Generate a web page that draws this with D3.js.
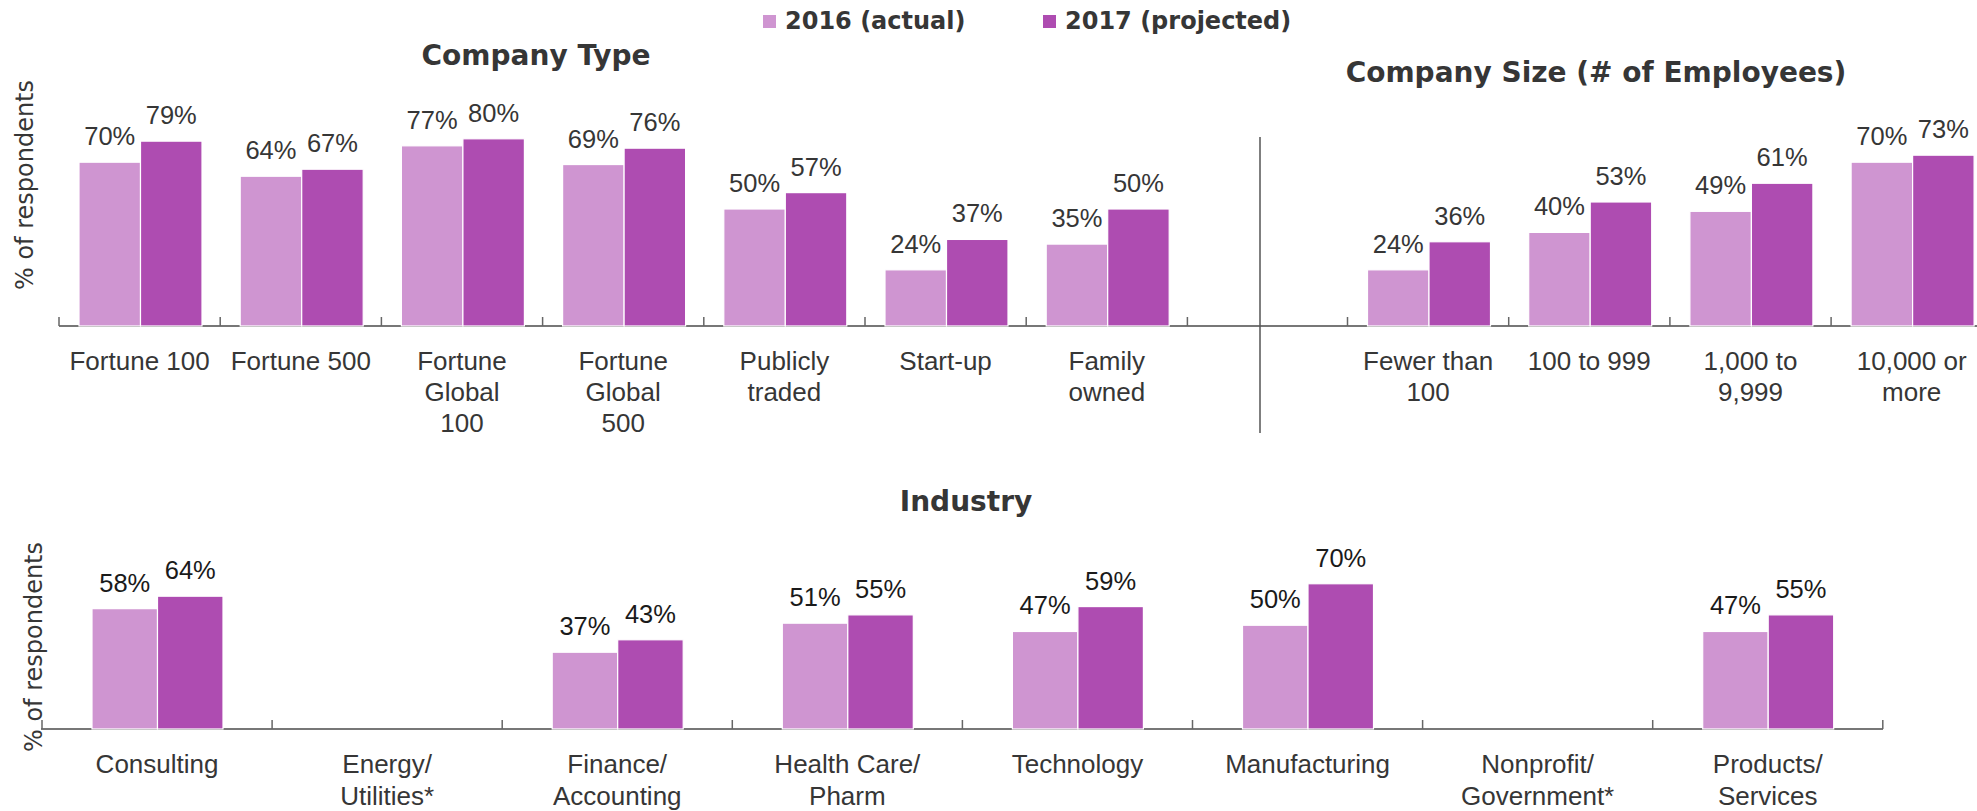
<!DOCTYPE html>
<html>
<head>
<meta charset="utf-8">
<script src="https://cdn.jsdelivr.net/npm/d3@7"></script>
<style>
  body { margin: 0; background: #fff; }
  svg { display: block; }
</style>
</head>
<body>
<div id="chart"></div>
<script>
// series
const seriesKeys = ["2016 (actual)", "2017 (projected)"];
const seriesColors = ["#cf95d1", "#ae4cb1"];

// company type
const typeCategories = ["Fortune 100", "Fortune 500", "Fortune\nGlobal\n100", "Fortune\nGlobal\n500", "Publicly\ntraded", "Start-up", "Family\nowned"];
const typeActual = [70, 64, 77, 69, 50, 24, 35];
const typeProjected = [79, 67, 80, 76, 57, 37, 50];

// company size
const sizeCategories = ["Fewer than\n100", "100 to 999", "1,000 to\n9,999", "10,000 or\nmore"];
const sizeActual = [24, 40, 49, 70];
const sizeProjected = [36, 53, 61, 73];

// industry (null = not shown)
const industryCategories = ["Consulting", "Energy/\nUtilities*", "Finance/\nAccounting", "Health Care/\nPharm", "Technology", "Manufacturing", "Nonprofit/\nGovernment*", "Products/\nServices"];
const industryActual = [58, null, 37, 51, 47, 50, null, 47];
const industryProjected = [64, null, 43, 55, 59, 70, null, 55];

const W = 1977, H = 811;
const labelFont = "'Liberation Sans', Arial, sans-serif";
const boldFont = "'DejaVu Sans', Verdana, sans-serif";
const textColor = "#363636";

const svg = d3.select("#chart").append("svg")
  .attr("width", W)
  .attr("height", H);

// legend
const legend = svg.append("g");
const legendX = [763, 1043];
seriesKeys.forEach(function (k, i) {
  legend.append("rect")
    .attr("x", legendX[i]).attr("y", 15)
    .attr("width", 13).attr("height", 13)
    .attr("fill", seriesColors[i]);
  legend.append("text")
    .attr("x", legendX[i] + 22).attr("y", 29)
    .attr("font-family", boldFont).attr("font-weight", "bold")
    .attr("font-size", 24).attr("fill", textColor)
    .text(k);
});

function drawGroup(cfg) {
  const g = svg.append("g");
  const data = cfg.categories.map((c, i) => ({
    key: c,
    values: [cfg.actual[i], cfg.projected[i]]
  }));

  const x0 = d3.scaleBand()
    .domain(cfg.categories)
    .range([cfg.x0, cfg.x0 + cfg.band * cfg.categories.length]);
  const x1 = d3.scaleBand()
    .domain([0, 1])
    .range(cfg.inner);

  // ticks at band boundaries
  const bounds = cfg.categories.map((c) => x0(c));
  if (cfg.endTick) bounds.push(x0.range()[1]);
  g.selectAll(".tick")
    .data(bounds)
    .enter()
    .append("line")
    .attr("x1", (d) => d).attr("x2", (d) => d)
    .attr("y1", cfg.y.range()[0] - 9).attr("y2", cfg.y.range()[0])
    .attr("stroke", "#666").attr("stroke-width", 1.5);

  const grp = g.selectAll(".grp")
    .data(data)
    .enter()
    .append("g")
    .attr("transform", (d) => "translate(" + x0(d.key) + ",0)");

  grp.selectAll("rect")
    .data((d) => d.values.map((v, i) => ({ v: v, i: i })).filter((e) => e.v != null))
    .enter()
    .append("rect")
    .attr("x", (d) => x1(d.i))
    .attr("width", x1.bandwidth())
    .attr("y", (d) => cfg.y(d.v))
    .attr("height", (d) => cfg.y(0) - cfg.y(d.v))
    .attr("fill", (d) => seriesColors[d.i])
    .attr("stroke", "#fff")
    .attr("stroke-width", 1.2);

  grp.selectAll(".val")
    .data((d) => d.values.map((v, i) => ({ v: v, i: i })).filter((e) => e.v != null))
    .enter()
    .append("text")
    .attr("x", (d) => x1(d.i) + x1.bandwidth() / 2)
    .attr("y", (d) => cfg.y(d.v) - 17)
    .attr("text-anchor", "middle")
    .attr("font-family", labelFont)
    .attr("font-size", 25.5)
    .attr("fill", cfg.valueColor)
    .text((d) => d.v + "%");

  // category labels
  grp.append("text")
    .attr("text-anchor", "middle")
    .attr("font-family", labelFont)
    .attr("font-size", 26)
    .attr("fill", textColor)
    .selectAll("tspan")
    .data((d) => d.key.split("\n"))
    .enter()
    .append("tspan")
    .attr("x", x0.bandwidth() / 2)
    .attr("y", (d, i) => cfg.labelY + i * cfg.lineH)
    .text((d) => d);

  return x0;
}

// top panels
const yTop = d3.scaleLinear().domain([0, 100]).range([326, 92]);

svg.append("line")
  .attr("x1", 59).attr("x2", W)
  .attr("y1", yTop(0)).attr("y2", yTop(0))
  .attr("stroke", "#777").attr("stroke-width", 2);

drawGroup({
  categories: typeCategories, actual: typeActual, projected: typeProjected,
  x0: 59, band: 161.2, inner: [20, 143], y: yTop, endTick: true,
  labelY: 370, lineH: 31, valueColor: textColor
});

drawGroup({
  categories: sizeCategories, actual: sizeActual, projected: sizeProjected,
  x0: 1347.5, band: 161.2, inner: [20, 143], y: yTop, endTick: false,
  labelY: 370, lineH: 31, valueColor: textColor
});

// divider
svg.append("line")
  .attr("x1", 1260).attr("x2", 1260)
  .attr("y1", 137).attr("y2", 433)
  .attr("stroke", "#555").attr("stroke-width", 1.5);

// industry panel
const yBot = d3.scaleLinear().domain([0, 100]).range([729, 521.5]);

svg.append("line")
  .attr("x1", 41).attr("x2", 1883)
  .attr("y1", yBot(0)).attr("y2", yBot(0))
  .attr("stroke", "#777").attr("stroke-width", 2);

drawGroup({
  categories: industryCategories, actual: industryActual, projected: industryProjected,
  x0: 42, band: 230.1, inner: [50, 181], y: yBot, endTick: true,
  labelY: 773, lineH: 32, valueColor: "#1a1a1a"
});

// titles
const titles = [
  { t: "Company Type", x: 536, y: 65 },
  { t: "Company Size (# of Employees)", x: 1596, y: 82 },
  { t: "Industry", x: 966, y: 511 }
];
svg.selectAll(".title")
  .data(titles)
  .enter()
  .append("text")
  .attr("x", (d) => d.x).attr("y", (d) => d.y)
  .attr("text-anchor", "middle")
  .attr("font-family", boldFont).attr("font-weight", "bold")
  .attr("font-size", 28).attr("fill", textColor)
  .text((d) => d.t);

// y axis labels
[{ x: 33, y: 185 }, { x: 41.5, y: 647 }].forEach(function (p) {
  svg.append("text")
    .attr("transform", "translate(" + p.x + "," + p.y + ") rotate(-90)")
    .attr("text-anchor", "middle")
    .attr("font-family", boldFont)
    .attr("font-size", 24)
    .attr("fill", textColor)
    .text("% of respondents");
});
</script>
</body>
</html>
